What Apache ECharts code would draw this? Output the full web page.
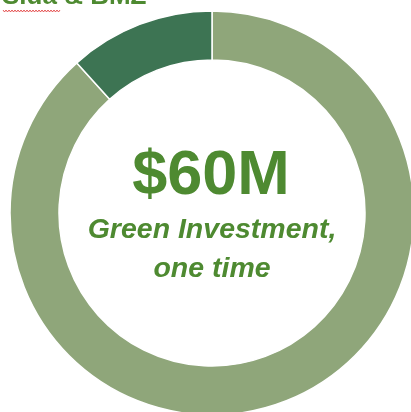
<!DOCTYPE html>
<html>
<head>
<meta charset="utf-8">
<script src="https://cdn.jsdelivr.net/npm/echarts@6/dist/echarts.min.js"></script>
<style>
html,body{margin:0;padding:0;background:#fff;}
#chart{width:411px;height:412px;}
</style>
</head>
<body>
<div id="chart"></div>
<script>
var categories = ['Other', 'Sida & BMZ'];
var values = [53, 7];
var sliceColors = ['#8FA67A', '#3D7453'];
var titleText = 'Sida & BMZ';
var centerValue = '$60M';
var centerLines = ['Green Investment,', 'one time'];

var textColor = '#4E8A31';
var chart = echarts.init(document.getElementById('chart'), null, {renderer: 'canvas'});

var squiggle = [];
for (var i = 0; i <= 38; i++) {
  squiggle.push([3 + i * 1.5, i % 2 === 0 ? 10 : 12]);
}

var option = {
  backgroundColor: '#ffffff',
  animation: false,
  series: [{
    type: 'pie',
    center: [212, 213],
    radius: [153, 202],
    startAngle: 90,
    clockwise: true,
    label: {show: false},
    labelLine: {show: false},
    emphasis: {disabled: true},
    itemStyle: {borderColor: '#ffffff', borderWidth: 1.5},
    data: categories.map(function (c, i) {
      return {name: c, value: values[i], itemStyle: {color: sliceColors[i]}};
    })
  }],
  graphic: [
    {
      type: 'text', x: 2, y: -16,
      style: {text: titleText, fill: textColor, font: 'bold 26px "Liberation Sans", Arial, sans-serif', align: 'left', verticalAlign: 'top'}
    },
    {
      type: 'polyline',
      shape: {points: squiggle},
      style: {stroke: '#E03030', lineWidth: 0.8, fill: null}
    },
    {
      type: 'text', x: 211, y: 177,
      style: {text: centerValue, fill: textColor, font: 'bold 63px "Liberation Sans", Arial, sans-serif', align: 'center', verticalAlign: 'middle'}
    },
    {
      type: 'text', x: 212, y: 230,
      style: {text: centerLines[0], fill: textColor, font: 'italic bold 28.5px "Liberation Sans", Arial, sans-serif', align: 'center', verticalAlign: 'middle'}
    },
    {
      type: 'text', x: 212, y: 269,
      style: {text: centerLines[1], fill: textColor, font: 'italic bold 28.5px "Liberation Sans", Arial, sans-serif', align: 'center', verticalAlign: 'middle'}
    }
  ]
};
chart.setOption(option);
</script>
</body>
</html>
